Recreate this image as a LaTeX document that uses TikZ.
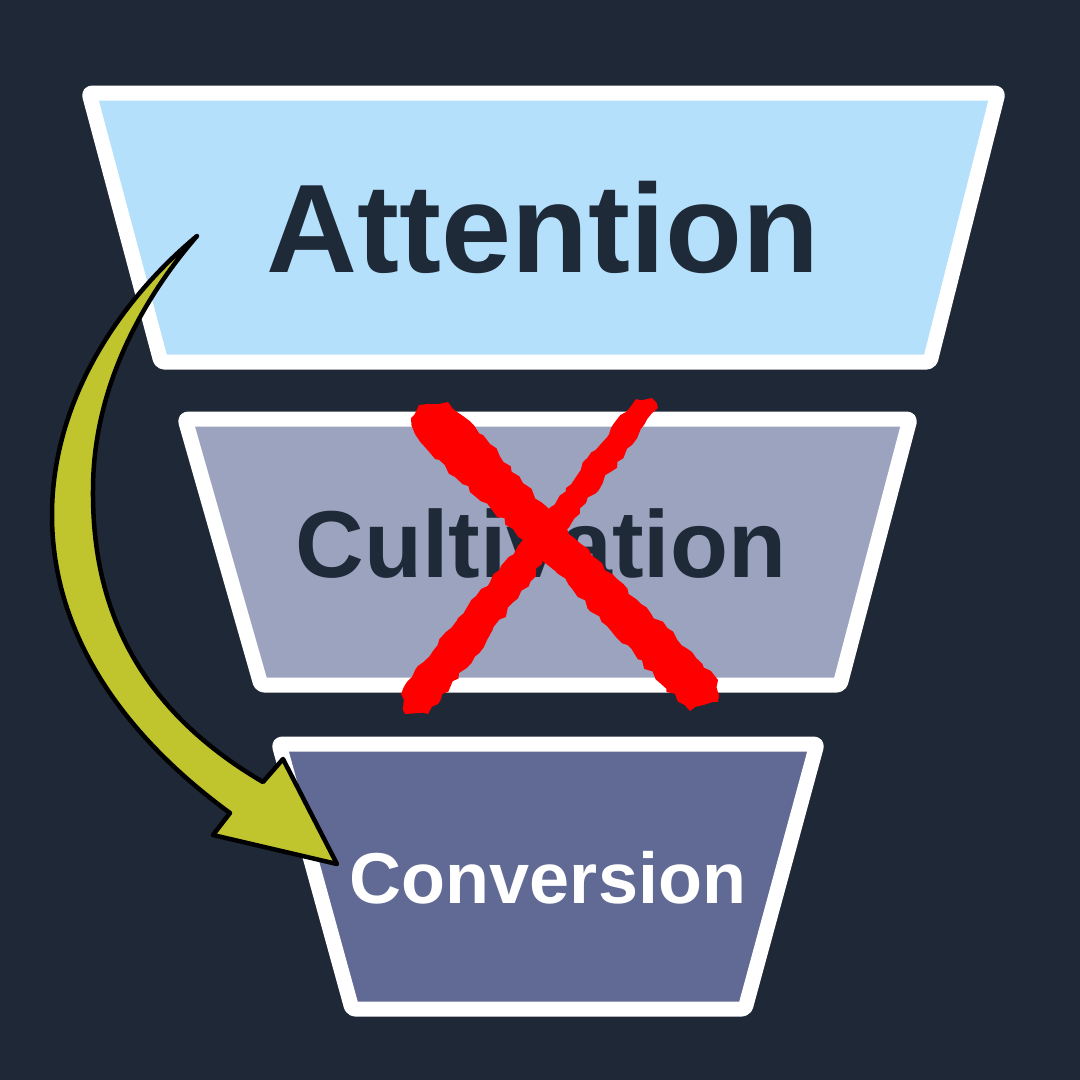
\documentclass[tikz,border=0pt]{standalone}
\usepackage{fontspec}
\setmainfont{Liberation Sans}
\usetikzlibrary{decorations.pathmorphing}
\definecolor{bg}{HTML}{1F2836}
\definecolor{attfill}{HTML}{B4E0FB}
\definecolor{cultfill}{HTML}{9BA3BF}
\definecolor{convfill}{HTML}{606A94}
\definecolor{ink}{HTML}{1F2A38}
\definecolor{arrowfill}{HTML}{C0C42D}
\begin{document}
\begin{tikzpicture}[x=1pt,y=-1pt,
  box/.style={draw=white, line width=15pt, line join=round, rounded corners=3pt},
  lbl/.style={anchor=base, inner sep=0pt, font=\bfseries},
  bigarrow/.style={draw=black, fill=arrowfill, line width=4.5pt, line join=round},
  xstroke/.style={fill=red, decorate, decoration={random steps, segment length=7pt, amplitude=2.5pt}}]
\pgfmathsetseed{11}
\fill[bg] (0,0) rectangle (1080,1080);
\useasboundingbox (0,0) rectangle (1080,1080);
% funnel stages
\draw[box, fill=attfill] (89,93) -- (998,93) -- (930,362) -- (161,362) -- cycle;
\draw[box, fill=cultfill] (185,419) -- (910,419) -- (840,685) -- (261,685) -- cycle;
\draw[box, fill=convfill] (279,744) -- (817,744) -- (745,1009) -- (352,1009) -- cycle;
% labels
\node[lbl, text=ink, font=\bfseries\fontsize{126}{126}\selectfont] (attention) at (543,272) {Attention};
\node[lbl, text=ink, font=\bfseries\fontsize{95}{95}\selectfont] (cultivation) at (541,577) {Cultivation};
\node[lbl, text=white, font=\bfseries\fontsize{72}{72}\selectfont] (conversion) at (548,903) {Conversion};
% red cross
\path[xstroke] (419,405) -- (448,402) -- (490,444) -- (541,502) -- (581,544) -- (636,599) -- (692,652) -- (718,680) -- (718,702) -- (690,711) -- (660,683) -- (607,626) -- (554,570) -- (513,529) -- (455,477) -- (415,434) -- (411,418) -- cycle;
\path[xstroke] (652,398) -- (658,408) -- (632,445) -- (586,503) -- (542,564) -- (487,640) -- (441,699) -- (428,714) -- (405,714) -- (401,694) -- (412,677) -- (458,618) -- (518,546) -- (566,488) -- (611,428) -- (636,399) -- cycle;
% skip arrow
\draw[bigarrow] (197,236) .. controls (120,300) and (52,400) .. (52,515)
  .. controls (52,640) and (130,740) .. (230,813)
  -- (213,835) -- (337,864) -- (283,759) -- (263,782)
  .. controls (140,710) and (92,610) .. (93,490)
  .. controls (93,380) and (150,290) .. (197,236) -- cycle;
\end{tikzpicture}
\end{document}
